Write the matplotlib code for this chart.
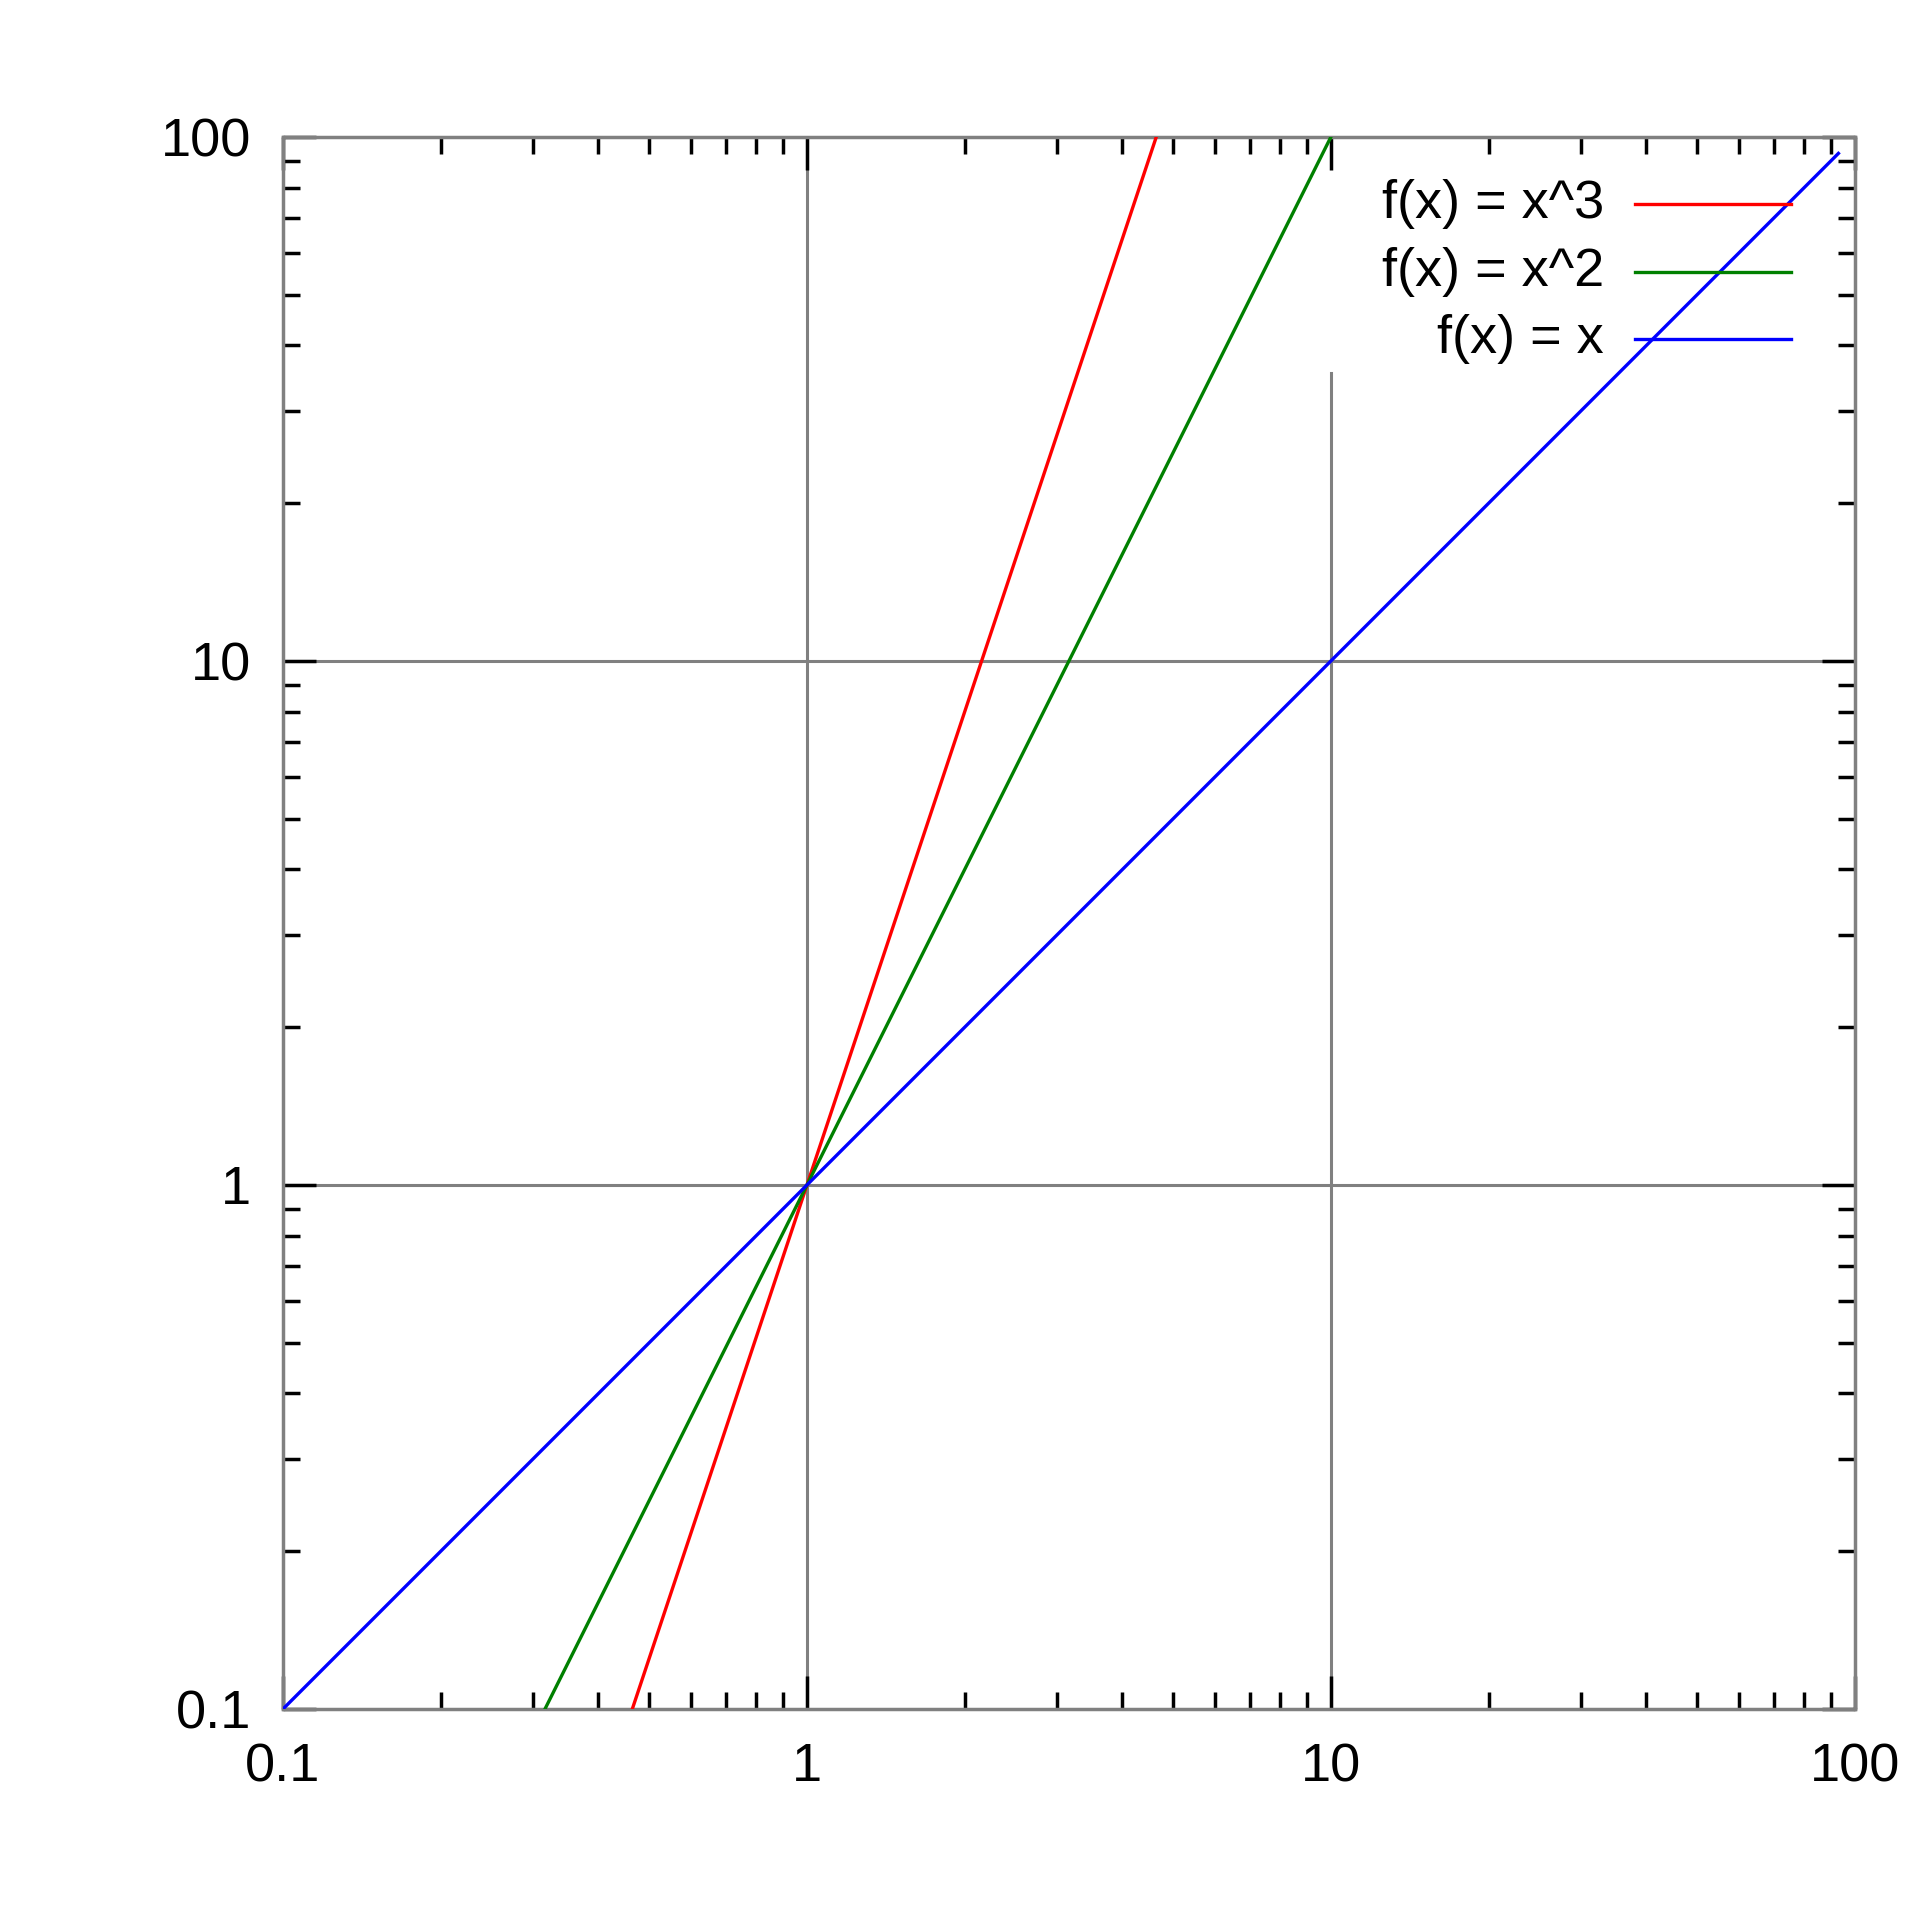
"""
Log-log plot of f(x) = x, x^2, x^3 in gnuplot style.
"""
import numpy as np
import matplotlib.pyplot as plt

plt.rcParams['font.family'] = ['Liberation Sans', 'DejaVu Sans']

# ── data ─────────────────────────────────────────────────────────────────────
x_start, x_end = 0.1, 93.0          # sampled range of the curves
powers = [3, 2, 1]
labels = ['f(x) = x^3', 'f(x) = x^2', 'f(x) = x']
colors = ['#ff0000', '#008000', '#0000ff']
tick_vals = [0.1, 1, 10, 100]
tick_labels = ['0.1', '1', '10', '100']
grid_vals = [1, 10]
key_gap_top = 35.5                  # x=10 grid stops under the key

x = np.logspace(np.log10(x_start), np.log10(x_end), 200)

# ── figure ───────────────────────────────────────────────────────────────────
fig = plt.figure(figsize=(19.2, 19.2), dpi=100)
ax = fig.add_axes([0.1474, 0.1099, 0.8187, 0.8188])
ax.set_xscale('log')
ax.set_yscale('log')
ax.set_xlim(0.1, 100)
ax.set_ylim(0.1, 100)

gray = '#808080'
# grid (gnuplot leaves a gap behind the key)
ax.plot([1, 1], [0.1, 100], color=gray, lw=2.2, zorder=1)
ax.plot([10, 10], [0.1, key_gap_top], color=gray, lw=2.2, zorder=1)
for g in grid_vals:
    ax.plot([0.1, 100], [g, g], color=gray, lw=2.2, zorder=1)

for p, lab, c in zip(powers, labels, colors):
    ax.plot(x, x ** p, color=c, lw=2.4, zorder=3, clip_on=True)

# ── key ──────────────────────────────────────────────────────────────────────
key_y = [0.9574, 0.9141, 0.8715]
for lab, c, ky in zip(labels, colors, key_y):
    ax.text(0.8403, ky, lab, transform=ax.transAxes, ha='right', va='center',
            fontsize=39, color='black')
    ax.plot([0.860, 0.9593], [ky, ky], transform=ax.transAxes, color=c,
            lw=2.4, zorder=3)

# ── axes styling ─────────────────────────────────────────────────────────────
for s in ax.spines.values():
    s.set_color(gray)
    s.set_linewidth(2.5)

ax.set_xticks(tick_vals)
ax.set_xticklabels(tick_labels)
ax.set_yticks(tick_vals)
ax.set_yticklabels(tick_labels)
ax.tick_params(which='major', direction='in', length=24, width=2.5,
               color='black', labelsize=39, top=True, right=True, pad=24)
ax.tick_params(which='minor', direction='in', length=12, width=2.5,
               color='black', top=True, right=True)
ax.tick_params(axis='y', pad=23)

plt.savefig('out.png', dpi=100, facecolor='white')
